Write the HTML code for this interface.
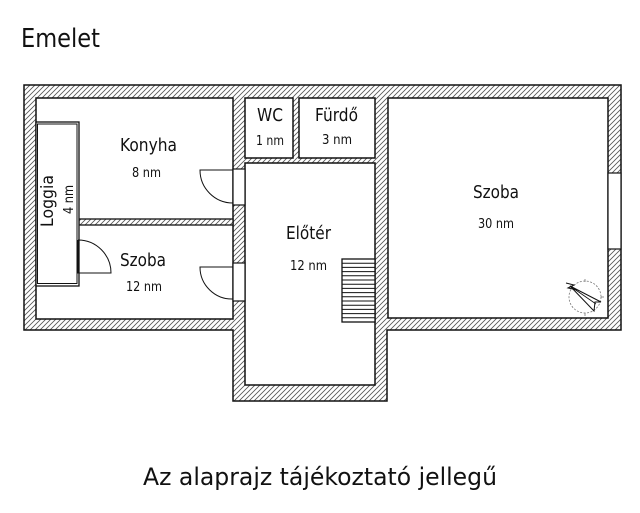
<!DOCTYPE html>
<html><head><meta charset="utf-8"><style>
html,body{margin:0;padding:0;background:#fff;}
svg{display:block;}
text{font-family:"DejaVu Sans","Liberation Sans",sans-serif;fill:#111;}
</style></head><body>
<svg width="640" height="513" viewBox="0 0 640 513" xmlns="http://www.w3.org/2000/svg">
<defs>
<pattern id="h" patternUnits="userSpaceOnUse" width="5" height="5">
<rect width="5" height="5" fill="#fff"/>
<path d="M-1,6 L6,-1 M-1,1 L1,-1 M4,6 L6,4" stroke="#555" stroke-width="0.8"/>
</pattern>
</defs>
<!-- outer walls -->
<polygon points="24,85 621,85 621,330 387,330 387,401 233,401 233,330 24,330" fill="url(#h)" stroke="#111" stroke-width="1.5"/>
<!-- rooms -->
<g fill="#fff" stroke="#111" stroke-width="1.5">
<rect x="36" y="98" width="197" height="221"/>
<rect x="245" y="98" width="48" height="60"/>
<rect x="299" y="98" width="76" height="60"/>
<rect x="245" y="163" width="130" height="222"/>
<rect x="388" y="98" width="220" height="220"/>
</g>
<!-- kitchen / szoba wall -->
<rect x="79" y="219" width="154" height="6" fill="url(#h)" stroke="#111" stroke-width="1.3"/>
<!-- loggia -->
<rect x="36" y="122" width="43" height="164" fill="#fff" stroke="#111" stroke-width="1.3"/>
<rect x="37.5" y="124" width="39.5" height="159.5" fill="#fff" stroke="#111" stroke-width="1"/>
<!-- door openings -->
<g fill="#fff" stroke="#111" stroke-width="1.2">
<rect x="233" y="169" width="12" height="36"/>
<rect x="233" y="263" width="12" height="38"/>
<rect x="608" y="173" width="13" height="76"/>
</g>
<!-- doors -->
<g fill="none" stroke="#111" stroke-width="1">
<path d="M233,170 L200,170 A33,33 0 0 0 233,203"/>
<path d="M233,267 L200,267 A32,32 0 0 0 233,299"/>
<path d="M78,240 L78,273 L111,273 A33,33 0 0 0 78,240"/>
</g>
<!-- stairs -->
<rect x="342" y="259" width="33" height="63" fill="#fff" stroke="#111" stroke-width="1.3"/>
<g stroke="#111" stroke-width="1">
<line x1="342" y1="263.2" x2="375" y2="263.2"/>
<line x1="342" y1="267.4" x2="375" y2="267.4"/>
<line x1="342" y1="271.6" x2="375" y2="271.6"/>
<line x1="342" y1="275.8" x2="375" y2="275.8"/>
<line x1="342" y1="280" x2="375" y2="280"/>
<line x1="342" y1="284.2" x2="375" y2="284.2"/>
<line x1="342" y1="288.4" x2="375" y2="288.4"/>
<line x1="342" y1="292.6" x2="375" y2="292.6"/>
<line x1="342" y1="296.8" x2="375" y2="296.8"/>
<line x1="342" y1="301" x2="375" y2="301"/>
<line x1="342" y1="305.2" x2="375" y2="305.2"/>
<line x1="342" y1="309.4" x2="375" y2="309.4"/>
<line x1="342" y1="313.6" x2="375" y2="313.6"/>
<line x1="342" y1="317.8" x2="375" y2="317.8"/>
</g>
<!-- compass -->
<circle cx="585" cy="297" r="16" fill="none" stroke="#777" stroke-width="0.8" stroke-dasharray="2,1.5"/>
<g stroke="#777" stroke-width="0.8">
<line x1="585" y1="279" x2="585" y2="282"/>
<line x1="601" y1="297" x2="604" y2="297"/>
<line x1="585" y1="313" x2="585" y2="316"/>
</g>
<polygon points="570,286 601,302 595,302 594,311" fill="#fff" stroke="#111" stroke-width="1"/>
<line x1="570" y1="286" x2="596" y2="304" stroke="#111" stroke-width="0.8"/>
<polyline points="566,283 574,285 568,288 577,290" fill="none" stroke="#111" stroke-width="1"/>
<!-- text -->
<text x="21" y="47" font-size="26" textLength="79" lengthAdjust="spacingAndGlyphs">Emelet</text>
<text x="120" y="151" font-size="18" textLength="57" lengthAdjust="spacingAndGlyphs">Konyha</text>
<text x="132" y="177" font-size="13" textLength="29" lengthAdjust="spacingAndGlyphs">8 nm</text>
<text x="257" y="121" font-size="18" textLength="26" lengthAdjust="spacingAndGlyphs">WC</text>
<text x="256" y="145" font-size="13" textLength="28" lengthAdjust="spacingAndGlyphs">1 nm</text>
<text x="315" y="121" font-size="18" textLength="43" lengthAdjust="spacingAndGlyphs">Fürdő</text>
<text x="322" y="144" font-size="13" textLength="30" lengthAdjust="spacingAndGlyphs">3 nm</text>
<text x="473" y="198" font-size="18" textLength="46" lengthAdjust="spacingAndGlyphs">Szoba</text>
<text x="478" y="228" font-size="13" textLength="36" lengthAdjust="spacingAndGlyphs">30 nm</text>
<text x="120" y="266" font-size="18" textLength="46" lengthAdjust="spacingAndGlyphs">Szoba</text>
<text x="126" y="291" font-size="13" textLength="36" lengthAdjust="spacingAndGlyphs">12 nm</text>
<text x="286" y="239" font-size="18" textLength="45" lengthAdjust="spacingAndGlyphs">Előtér</text>
<text x="290" y="270" font-size="13" textLength="37" lengthAdjust="spacingAndGlyphs">12 nm</text>
<text transform="translate(53,227) rotate(-90)" font-size="17" textLength="52" lengthAdjust="spacingAndGlyphs">Loggia</text>
<text transform="translate(73,214) rotate(-90)" font-size="13" textLength="29" lengthAdjust="spacingAndGlyphs">4 nm</text>
<text x="143" y="485" font-size="24" textLength="354" lengthAdjust="spacingAndGlyphs">Az alaprajz tájékoztató jellegű</text>
</svg>
</body></html>
